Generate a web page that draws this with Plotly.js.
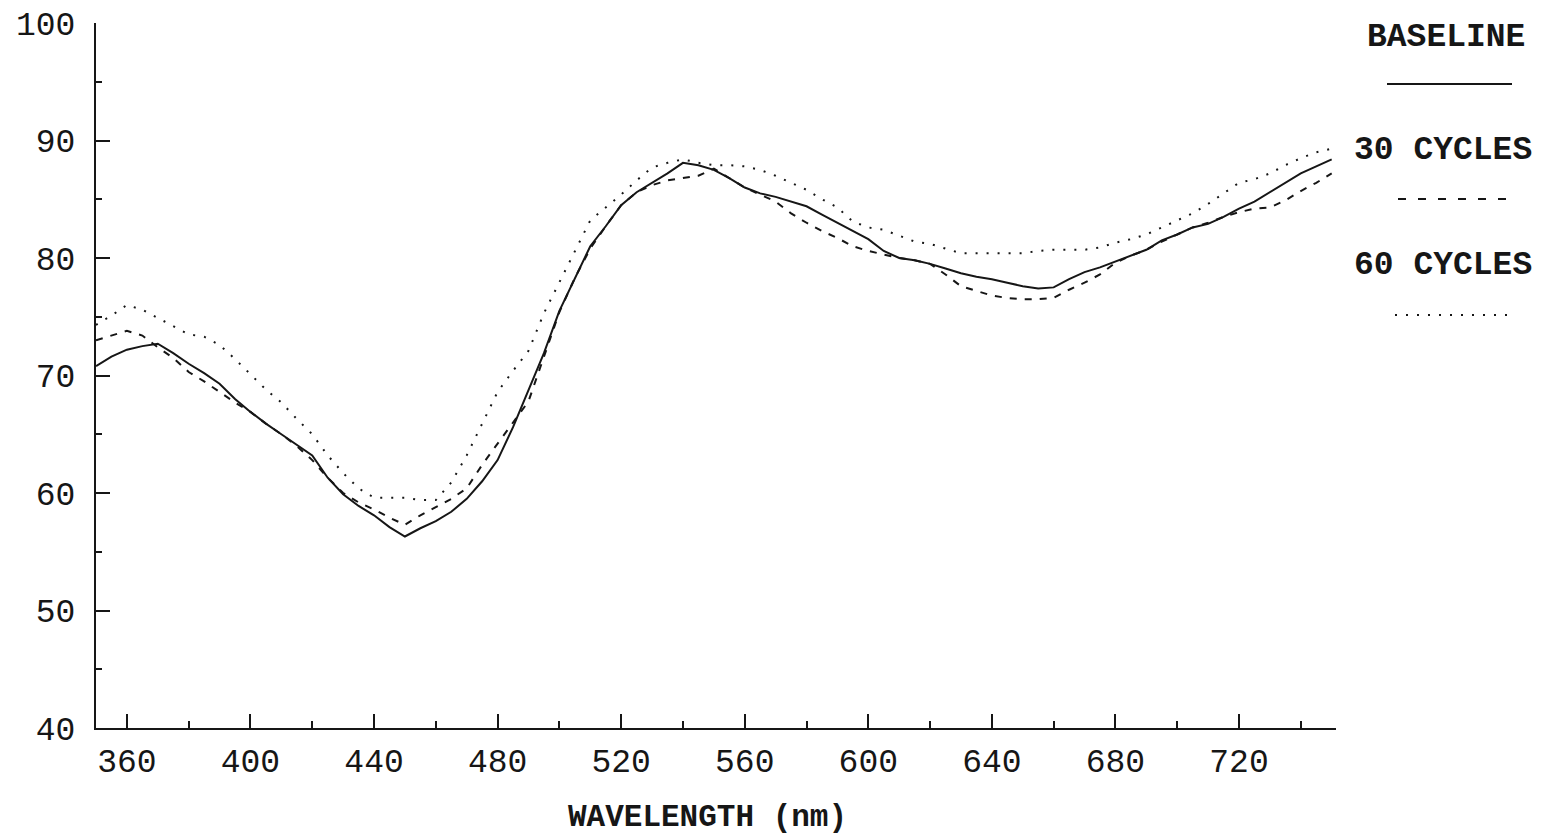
<!DOCTYPE html>
<html>
<head>
<meta charset="utf-8">
<script src="https://cdn.plot.ly/plotly-3.0.1.min.js"></script>
<style>
  html, body { margin: 0; padding: 0; background: #ffffff; }
  #chart { width: 1551px; height: 837px; }
</style>
</head>
<body>
<div id="chart"></div>
<script>
// Reflectance spectra (%), sampled every 5 nm from 350 to 750 nm
const wavelength = [
  350,355,360,365,370,375,380,385,390,395,
  400,405,410,415,420,425,430,435,440,445,
  450,455,460,465,470,475,480,485,490,495,
  500,505,510,515,520,525,530,535,540,545,
  550,555,560,565,570,575,580,585,590,595,
  600,605,610,615,620,625,630,635,640,645,
  650,655,660,665,670,675,680,685,690,695,
  700,705,710,715,720,725,730,735,740,745,750
];

const baseline = [
  70.8,71.6,72.2,72.5,72.7,71.9,71.0,70.2,69.3,68.0,
  66.9,65.9,65.0,64.1,63.2,61.3,59.9,58.9,58.1,57.1,
  56.3,57.0,57.6,58.4,59.5,61.0,62.8,65.6,68.8,71.9,
  75.5,78.3,81.0,82.7,84.5,85.6,86.4,87.2,88.1,87.9,
  87.5,86.8,86.0,85.5,85.2,84.8,84.4,83.7,83.0,82.3,
  81.6,80.6,80.0,79.8,79.5,79.1,78.7,78.4,78.2,77.9,
  77.6,77.4,77.5,78.2,78.8,79.2,79.7,80.2,80.7,81.5,
  82.0,82.6,82.9,83.5,84.2,84.8,85.6,86.4,87.2,87.8,88.4
];

const cycles30 = [
  73.0,73.4,73.8,73.4,72.4,71.5,70.3,69.5,68.6,67.7,
  66.9,65.9,65.0,64.0,62.8,61.3,60.0,59.2,58.6,57.9,
  57.3,58.1,58.8,59.5,60.4,62.4,64.2,66.0,67.8,71.6,
  75.4,78.3,80.8,82.7,84.5,85.6,86.2,86.6,86.8,87.0,
  87.6,86.8,86.0,85.4,84.8,83.8,83.0,82.3,81.7,81.0,
  80.6,80.3,80.0,79.8,79.5,78.6,77.6,77.2,76.8,76.6,
  76.5,76.5,76.6,77.3,77.9,78.6,79.6,80.2,80.7,81.4,
  82.0,82.6,83.0,83.5,83.9,84.2,84.3,84.9,85.7,86.4,87.2
];

const cycles60 = [
  74.3,75.1,76.0,75.6,74.9,74.2,73.5,73.3,72.6,71.4,
  70.1,68.8,67.7,66.3,65.0,63.2,61.7,60.4,59.6,59.6,
  59.6,59.4,59.4,60.9,63.2,65.9,68.6,70.4,72.1,75.3,
  77.9,80.6,83.2,84.3,85.4,86.6,87.7,88.1,88.4,88.1,
  87.9,87.9,87.8,87.5,87.0,86.4,85.8,85.0,84.3,83.1,
  82.6,82.4,81.9,81.4,81.2,80.8,80.4,80.4,80.4,80.4,
  80.4,80.6,80.7,80.7,80.7,80.9,81.3,81.6,82.0,82.6,
  83.2,83.8,84.6,85.5,86.4,86.7,87.2,87.9,88.5,89.0,89.3
];

const seriesNames = ['BASELINE', '30 CYCLES', '60 CYCLES'];
const xTickVals = [360, 400, 440, 480, 520, 560, 600, 640, 680, 720];
const yTickVals = [40, 50, 60, 70, 80, 90, 100];

const ink = '#161616';
const monoFont = '"Liberation Mono", "DejaVu Sans Mono", monospace';
const dashStyles = ['solid', '7px,8px', '2px,9px'];

const traces = [baseline, cycles30, cycles60].map((vals, i) => ({
  type: 'scatter',
  mode: 'lines',
  name: seriesNames[i],
  x: wavelength,
  y: vals,
  line: { color: ink, width: 2, dash: dashStyles[i] },
  hoverinfo: 'x+y+name'
}));

// Plot area spans x: 96..1336 px, y: 23..728 px
const plotL = 96, plotR = 1336, plotT = 23, plotB = 728;
const W = 1551, H = 837;
const px = x => (x - plotL) / (plotR - plotL);
const py = y => (plotB - y) / (plotB - plotT);

// Key: label on top, line sample beneath
const keyRows = [
  { label: seriesNames[0], cx: 1446, ty: 37,  x0: 1387, x1: 1512, ly: 84,  dash: 'solid' },
  { label: seriesNames[1], cx: 1443, ty: 150, x0: 1398, x1: 1512, ly: 199, dash: '8px,12px' },
  { label: seriesNames[2], cx: 1443, ty: 265, x0: 1395, x1: 1508, ly: 315, dash: '2px,9px' }
];

const annotations = keyRows.map(r => ({
  xref: 'paper', yref: 'paper',
  x: px(r.cx), y: py(r.ty),
  xanchor: 'center', yanchor: 'middle',
  text: r.label, showarrow: false,
  font: { family: monoFont, size: 33, color: ink, weight: 'bold' }
}));

annotations.push({
  xref: 'paper', yref: 'paper',
  x: px(707), y: py(817),
  xanchor: 'center', yanchor: 'middle',
  text: 'WAVELENGTH (nm)', showarrow: false,
  font: { family: monoFont, size: 31, color: ink, weight: 'bold' }
});

const shapes = keyRows.map(r => ({
  type: 'line', xref: 'paper', yref: 'paper',
  x0: px(r.x0), x1: px(r.x1), y0: py(r.ly), y1: py(r.ly),
  line: { color: ink, width: 2, dash: r.dash }
}));

const layout = {
  width: W, height: H,
  margin: { l: plotL, r: W - plotR, t: plotT, b: H - plotB, pad: 0 },
  paper_bgcolor: '#ffffff',
  plot_bgcolor: '#ffffff',
  showlegend: false,
  font: { family: monoFont, color: ink },
  xaxis: {
    range: [350, 751.4],
    showgrid: false, zeroline: false,
    showline: true, linecolor: ink, linewidth: 2,
    ticks: 'inside', ticklen: 14, tickwidth: 2, tickcolor: ink,
    tickmode: 'array', tickvals: xTickVals,
    ticklabelstandoff: 2,
    tickfont: { family: monoFont, size: 33, color: ink },
    minor: { dtick: 20, tick0: 360, ticks: 'inside', ticklen: 7, tickwidth: 2, tickcolor: ink, showgrid: false }
  },
  yaxis: {
    range: [40, 100],
    showgrid: false, zeroline: false,
    showline: true, linecolor: ink, linewidth: 2,
    ticks: 'inside', ticklen: 14, tickwidth: 2, tickcolor: ink,
    tickmode: 'array', tickvals: yTickVals,
    ticklabelstandoff: 12,
    tickfont: { family: monoFont, size: 33, color: ink },
    minor: { dtick: 5, tick0: 40, ticks: 'inside', ticklen: 6, tickwidth: 2, tickcolor: ink, showgrid: false }
  },
  annotations: annotations,
  shapes: shapes
};

Plotly.newPlot('chart', traces, layout, { displayModeBar: false });
</script>
</body>
</html>
